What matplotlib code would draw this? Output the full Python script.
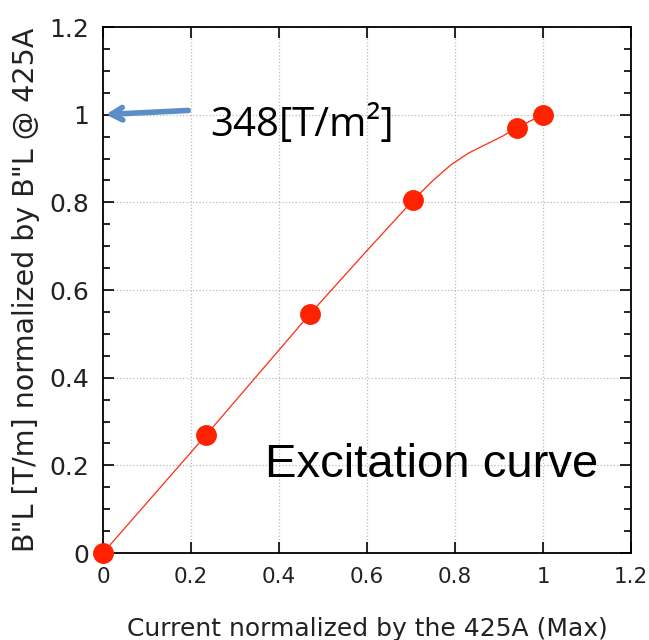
import matplotlib.pyplot as plt
from matplotlib.ticker import MultipleLocator

# measured points
current = [0.0, 0.235, 0.47, 0.705, 0.94, 1.0]
field = [0.0, 0.27, 0.545, 0.805, 0.97, 1.0]

# fitted curve
curve_x = [0.0, 0.235, 0.47, 0.6, 0.705, 0.75, 0.79, 0.83, 0.87, 0.91, 0.94, 1.0]
curve_y = [0.0, 0.27, 0.545, 0.69, 0.805, 0.85, 0.885, 0.912, 0.932, 0.952, 0.97, 1.0]

fig = plt.figure(figsize=(6.49, 6.4), dpi=100)
ax = fig.add_axes([0.1587, 0.1359, 0.8136, 0.8219])

ax.plot(curve_x, curve_y, color='#ff2a10', lw=0.9)
ax.plot(current, field, 'o', color='#ff2200', ms=14, mec='#ff2200', clip_on=False, zorder=5)

ax.set_xlim(0, 1.2)
ax.set_ylim(0, 1.2)
ax.yaxis.set_minor_locator(MultipleLocator(0.05))
ax.set_xticks([0, 0.2, 0.4, 0.6, 0.8, 1, 1.2], ['0', '0.2', '0.4', '0.6', '0.8', '1', '1.2'])
ax.set_yticks([0, 0.2, 0.4, 0.6, 0.8, 1, 1.2], ['0', '0.2', '0.4', '0.6', '0.8', '1', '1.2'])
ax.tick_params(which='both', direction='in', top=True, right=True, width=1.2)
ax.tick_params(which='major', length=8, pad=10)
ax.tick_params(which='minor', length=5)
ax.tick_params(axis='x', labelsize=15.5, labelcolor='#222222')
ax.tick_params(axis='y', labelsize=18, labelcolor='#222222')
ax.grid(True, which='major', color='#bbbbbb', ls=':', lw=0.9)
for s in ax.spines.values():
    s.set_linewidth(1.3)

ax.set_xlabel('Current normalized by the 425A (Max)', fontsize=18, labelpad=22, color='#222222')
ax.set_ylabel('B"L [T/m] normalized by B"L @ 425A', fontsize=20.5, labelpad=7, color='#222222')

ax.annotate('', xy=(0.0, 1.0), xytext=(0.2, 1.01),
            arrowprops=dict(arrowstyle='->, head_length=0.8, head_width=0.45',
                            color='#5b8ec8', lw=4))
ax.text(0.243, 0.975, '348[T/m²]', fontsize=29, family='Open Sans', va='center')
ax.text(0.368, 0.2, 'Excitation curve', fontsize=34, family='Liberation Sans', va='center')

fig.savefig('out.png', dpi=100)
